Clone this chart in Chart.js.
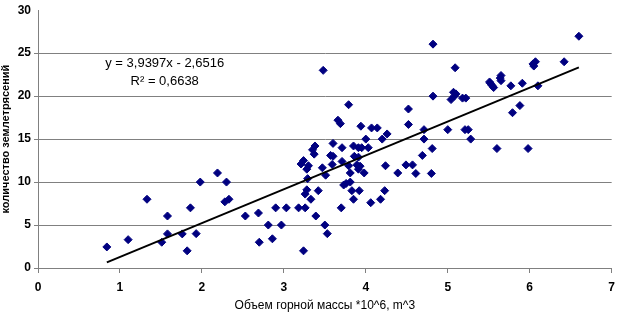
<!DOCTYPE html>
<html>
<head>
<meta charset="utf-8">
<script src="https://cdn.jsdelivr.net/npm/chart.js@4/dist/chart.umd.min.js"></script>
<style>
html,body{margin:0;padding:0;background:#fff;}
#wrap{width:622px;height:313px;}
</style>
</head>
<body>
<div id="wrap"><canvas id="c" width="622" height="313"></canvas></div>
<script>
const volumeX = [0.84,1.10,1.33,1.51,1.58,1.58,1.76,1.82,1.86,1.93,1.98,
2.19,2.28,2.30,2.33,2.53,2.69,2.70,2.81,2.86,2.90,2.97,3.03,3.18,3.26,3.24,
3.21,3.24,3.30,3.28,3.29,3.28,3.26,3.33,3.39,3.42,
3.37,3.35,3.38,3.47,3.51,3.50,3.53,3.57,3.60,3.59,3.60,3.48,
3.66,3.69,3.71,3.71,3.70,3.73,3.76,3.79,3.81,3.81,3.79,3.83,3.85,3.92,
3.85,3.91,3.95,3.86,3.91,3.89,3.93,3.91,3.98,3.94,4.00,4.03,
4.07,4.14,4.06,4.18,4.23,4.20,4.26,4.24,4.39,4.49,4.57,4.52,4.52,4.61,4.69,4.71,4.71,4.80,4.81,4.82,4.82,
5.00,5.04,5.07,5.10,5.08,5.09,5.18,5.22,5.21,5.25,5.28,
5.51,5.52,5.54,5.56,5.60,5.64,5.65,5.65,5.77,5.79,5.88,5.91,5.98,6.04,6.05,6.07,6.10,6.42,6.60];
const quakeCount = [2.45,3.3,8.0,3.0,6.05,3.97,3.97,2.0,7.0,4.0,10.0,
11.06,7.7,10.0,8.0,6.05,6.4,3.0,5.0,3.4,7.0,5.0,7.0,7.0,7.0,2.0,
12.1,12.5,11.9,11.5,10.4,9.1,8.6,8.0,6.05,9.0,
13.25,13.75,14.2,11.66,10.8,5.0,4.0,13.1,13.0,12.05,14.5,23.0,
17.2,16.8,14.0,12.4,7.0,9.66,9.84,19.0,10.0,11.06,11.9,9.0,8.0,9.0,
14.2,14.0,14.0,13.0,12.9,12.0,11.85,11.5,11.06,16.5,15.0,14.0,
16.3,16.3,7.6,8.0,9.0,15.0,15.6,11.9,11.06,12.0,12.0,18.5,16.7,11.0,13.1,16.1,15.0,11.0,13.9,20.0,26.05,
16.1,19.6,20.45,20.26,20.0,23.3,19.77,19.77,16.1,16.1,15.0,
21.65,21.5,21.25,21.0,13.9,22.1,22.4,21.8,21.2,18.07,18.9,21.5,13.9,23.75,23.5,24.0,21.2,24.0,26.97];
const trendX = [0.84, 6.60];
const trendY = [0.66, 23.35];
const xTicks = [0,1,2,3,4,5,6,7];
const yTicks = [0,5,10,15,20,25,30];
const equationLines = ["y = 3,9397x - 2,6516", "R\u00B2 = 0,6638"];
const xTitle = "Объем горной массы *10^6, m^3";
const yTitle = "количество землетрясений";

const FONT = "'Liberation Sans', Arial, sans-serif";
const points = volumeX.map((x,i)=>({x:x, y:quakeCount[i]}));
const trend = trendX.map((x,i)=>({x:x, y:trendY[i]}));

const eqPlugin = {
  id:'eq',
  afterDatasetsDraw(chart){
    const {ctx, scales:{x,y}} = chart;
    ctx.save();
    ctx.fillStyle = '#000';
    ctx.font = '13px ' + FONT;
    ctx.textAlign = 'center';
    ctx.textBaseline = 'middle';
    const cx = x.getPixelForValue(1.546);
    ctx.fillText(equationLines[0], cx, y.getPixelForValue(23.75));
    ctx.fillText(equationLines[1], cx, y.getPixelForValue(21.66));
    ctx.restore();
  }
};

new Chart(document.getElementById('c'), {
  type:'scatter',
  data:{datasets:[
    {type:'line', data:trend, borderColor:'#000', borderWidth:2, pointRadius:0, fill:false, tension:0},
    {data:points, pointStyle:'rectRot', pointRadius:4, pointHoverRadius:4,
     backgroundColor:'#000080', borderColor:'#000080', borderWidth:1}
  ]},
  options:{
    responsive:false, animation:false,
    layout:{padding:{left:0,right:3,top:5,bottom:0}},
    plugins:{legend:{display:false}, tooltip:{enabled:false}},
    scales:{
      x:{type:'linear', min:0, max:7,
        afterBuildTicks(s){ s.ticks = xTicks.map(v=>({value:v})); },
        afterFit(s){ s.height = 45; },
        border:{display:true, color:'#808080', width:1},
        grid:{drawOnChartArea:false, drawTicks:true, tickLength:5, color:'#808080'},
        ticks:{color:'#000', font:{family:FONT, size:12, weight:'bold'}, padding:7, maxRotation:0},
        title:{display:true, text:xTitle, color:'#000', font:{family:FONT, size:12}, padding:{top:0,bottom:0}}
      },
      y:{type:'linear', min:0, max:30,
        afterBuildTicks(s){ s.ticks = yTicks.map(v=>({value:v})); },
        afterFit(s){ s.width = 38; },
        border:{display:true, color:'#808080', width:1},
        grid:{drawOnChartArea:true, drawTicks:true, tickLength:4,
          color:(c)=> (c.tick && c.tick.value===30) ? 'rgba(0,0,0,0)' : '#808080'},
        ticks:{color:'#000', font:{family:FONT, size:12, weight:'bold'}, padding:3},
        title:{display:true, text:yTitle, color:'#000', font:{family:FONT, size:11, weight:'bold', lineHeight:1}, padding:{top:0,bottom:0}}
      }
    }
  },
  plugins:[eqPlugin]
});
</script>
</body>
</html>
